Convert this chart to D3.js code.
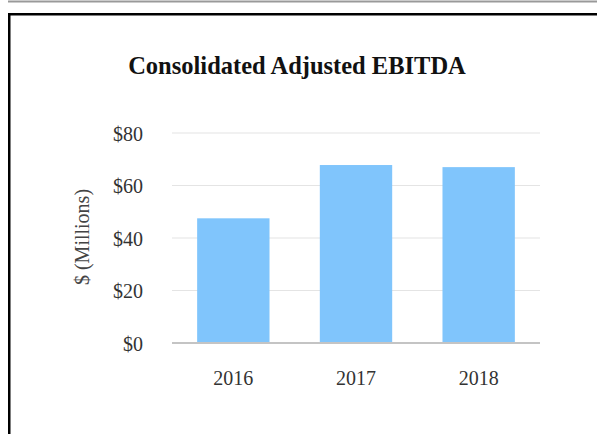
<!DOCTYPE html>
<html>

<head>
  <meta charset="UTF-8">
  <title>Consolidated Adjusted EBITDA</title>
  <script src="https://d3js.org/d3.v7.min.js"></script>
  <style>
    body {
      margin: 0;
      background: #fff;
    }

    svg text {
      font-family: "Liberation Serif", "Times New Roman", serif;
    }
  </style>
</head>

<body>
  <svg></svg>

  <script>
    // values, $ millions
    let years = ["2016", "2017", "2018"];
    let ebitda = [47.5, 67.8, 67.0];
    let yTicks = [0, 20, 40, 60, 80];

    let width = 597,
      height = 434;

    let svg = d3.select("svg")
      .attr("width", width)
      .attr("height", height);

    // scan edges: faint line at the top, black frame round the chart
    svg.append("line")
      .attr("x1", 8).attr("x2", width)
      .attr("y1", 1.5).attr("y2", 1.5)
      .attr("stroke", "#999")
      .attr("stroke-width", 2);

    svg.append("rect")
      .attr("x", 9.25).attr("y", 14.25)
      .attr("width", width + 10).attr("height", height + 10)
      .attr("fill", "none")
      .attr("stroke", "#000")
      .attr("stroke-width", 2.5);

    let x = d3.scaleBand()
      .domain(years)
      .range([172, 540])
      .paddingInner(0.41)
      .paddingOuter(0.205);

    let y = d3.scaleLinear()
      .domain([0, 80])
      .range([343, 133]);

    // gridlines
    svg.append("g")
      .selectAll("line")
      .data(yTicks.filter(d => d > 0))
      .enter()
      .append("line")
      .attr("x1", 172).attr("x2", 540)
      .attr("y1", d => y(d)).attr("y2", d => y(d))
      .attr("stroke", "#e4e4e4")
      .attr("stroke-width", 1.2);

    svg.append("g")
      .selectAll("rect")
      .data(ebitda)
      .enter()
      .append("rect")
      .attr("x", (d, i) => x(years[i]))
      .attr("y", d => y(d))
      .attr("width", x.bandwidth())
      .attr("height", d => y(0) - y(d))
      .attr("fill", "#80c5fc");

    // baseline
    svg.append("line")
      .attr("x1", 172).attr("x2", 540)
      .attr("y1", y(0)).attr("y2", y(0))
      .attr("stroke", "#c4c4c4")
      .attr("stroke-width", 2);

    let yAxis = d3.axisLeft(y)
      .tickValues(yTicks)
      .tickSize(0)
      .tickPadding(0)
      .tickFormat(d => "$" + d);

    svg.append("g")
      .attr("transform", "translate(143,0)")
      .call(yAxis)
      .call(g => g.select(".domain").remove())
      .selectAll("text")
      .attr("font-size", 20)
      .attr("fill", "#333")
      .attr("dy", "0.35em");

    let xAxis = d3.axisBottom(x)
      .tickSize(0)
      .tickPadding(0);

    svg.append("g")
      .attr("transform", "translate(0,371)")
      .call(xAxis)
      .call(g => g.select(".domain").remove())
      .selectAll("text")
      .attr("font-size", 20)
      .attr("fill", "#333")
      .attr("dy", "0.71em");

    svg.append("text")
      .attr("transform", "translate(89,237) rotate(-90)")
      .attr("text-anchor", "middle")
      .attr("font-size", 20)
      .attr("fill", "#444")
      .text("$ (Millions)");

    svg.append("text")
      .attr("x", 297)
      .attr("y", 74)
      .attr("text-anchor", "middle")
      .attr("font-size", 24.5)
      .attr("font-weight", "bold")
      .attr("fill", "#111")
      .text("Consolidated Adjusted EBITDA");
  </script>

</body>

</html>
